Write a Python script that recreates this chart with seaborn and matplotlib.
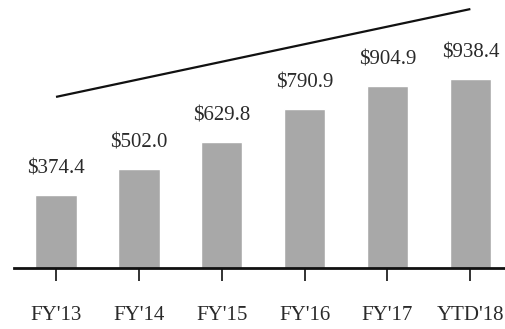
import matplotlib
matplotlib.use("Agg")
import matplotlib.pyplot as plt
import seaborn as sns
import pandas as pd

categories = ["FY'13", "FY'14", "FY'15", "FY'16", "FY'17", "YTD'18"]
values = [374.4, 502.0, 629.8, 790.9, 904.9, 938.4]
value_labels = ["$374.4", "$502.0", "$629.8", "$790.9", "$904.9", "$938.4"]

sns.set_theme(style="white")
plt.rcParams["font.family"] = ["Liberation Serif", "DejaVu Serif"]

df = pd.DataFrame({"period": categories, "amount": values})

fig = plt.figure(figsize=(5.06, 3.29), dpi=100)
ax = fig.add_axes([14 / 506, 61 / 329, 1 - 14 / 506, 268 / 329])

sns.barplot(data=df, x="period", y="amount", color="#a8a8a8", saturation=1,
            width=0.5, ax=ax)

ax.set_xlim(-0.507, 5.43)
ax.set_ylim(19.4, 1322)

for i, (v, lbl) in enumerate(zip(values, value_labels)):
    ax.annotate(lbl, (i, v), xytext=(0, 18.7), textcoords="offset points",
                ha="center", va="center", fontsize=15, color="#2a2a2a")

# Growth trend line across the top
ax.plot([0, 5], [851, 1278], color="#111111", lw=1.6, solid_capstyle="butt",
        clip_on=False)

for side in ["top", "right", "left"]:
    ax.spines[side].set_visible(False)
ax.spines["bottom"].set_linewidth(2.0)
ax.spines["bottom"].set_color("#111111")

ax.set_yticks([])
ax.set_xlabel("")
ax.set_ylabel("")
ax.tick_params(axis="x", bottom=True, length=9, width=1.3, color="#222222",
               pad=18.5, labelsize=15, labelcolor="#2a2a2a")

fig.savefig("out.png", dpi=100)
